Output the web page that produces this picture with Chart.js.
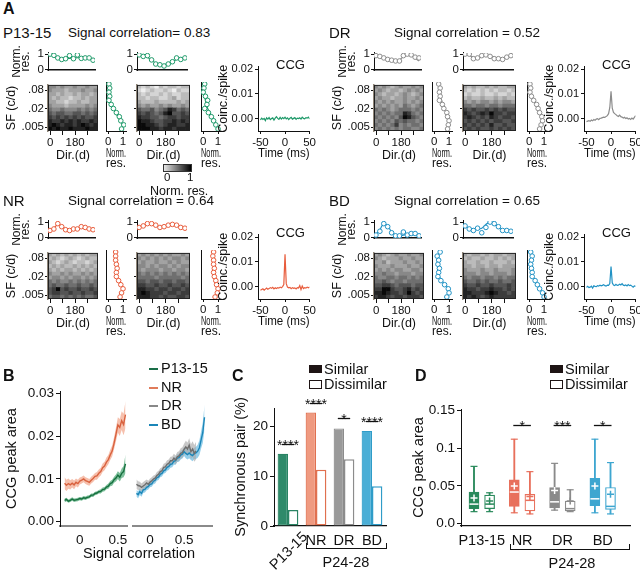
<!DOCTYPE html>
<html>
<head>
<meta charset="utf-8">
<script src="https://cdn.jsdelivr.net/npm/chart.js@4.4.0/dist/chart.umd.min.js"></script>
<style>
body { margin: 0; background: #fff; }
#fig { position: relative; width: 640px; height: 575px; overflow: hidden; font-family: 'Liberation Sans', Arial, sans-serif; color: #111; }
.t { position: absolute; white-space: nowrap; line-height: 1; }
</style>
</head>
<body>
<div id="fig"></div>
<script>
// ---------- A: example pairs ----------
const dirLabels = ['0', '30', '60', '90', '120', '150', '180', '210', '240', '270', '300', '330'];
const sfTickLabels = ['.005', '.02', '.08'];
const ccgTime = [-50, -47.5, -45, -42.5, -40, -37.5, -35, -32.5, -30, -27.5, -25, -22.5, -20, -17.5, -15, -12.5, -10, -7.5, -5, -2.5,
  0, 2.5, 5, 7.5, 10, 12.5, 15, 17.5, 20, 22.5, 25, 27.5, 30, 32.5, 35, 37.5, 40, 42.5, 45, 47.5, 50];

// heatmap rows: top row = highest SF, 0 = low response (light), 9 = high (dark)
const p13HeatA = [
  [4,4,3,4,3,3,4,3,3,4,3,3], [4,3,3,3,2,3,3,3,4,3,3,4], [3,3,2,3,2,2,3,2,3,3,2,3], [3,2,3,2,2,1,2,2,3,2,3,3],
  [3,3,2,2,1,2,2,3,2,2,3,3], [4,3,3,3,2,3,3,3,3,4,3,4], [5,4,4,5,4,4,4,5,4,5,4,5], [6,5,6,6,5,5,6,6,5,6,5,6],
  [7,6,7,6,7,6,7,6,7,6,6,7], [8,7,7,8,7,8,7,8,7,7,8,7], [8,9,8,7,8,8,7,8,9,8,7,8], [9,8,9,8,8,9,8,8,8,9,8,8]];
const p13HeatB = [
  [2,1,2,1,0,2,1,2,2,1,2,2], [1,0,1,2,1,1,2,1,0,2,1,1], [2,1,2,1,1,2,1,2,1,1,2,2], [2,2,1,2,2,1,1,2,3,1,2,2],
  [3,2,2,2,3,2,2,2,2,3,2,3], [4,3,4,3,3,4,3,4,3,3,4,3], [6,5,5,6,4,5,6,8,7,5,6,5], [7,6,7,6,5,6,8,9,6,6,7,6],
  [8,7,7,6,6,5,6,7,7,6,7,7], [9,8,8,7,6,6,7,7,8,7,8,7], [9,9,8,8,7,6,7,8,8,7,7,8], [9,9,9,8,8,7,8,8,7,8,8,8]];
const drHeatA = [
  [4,3,4,3,2,3,4,3,3,4,3,4], [3,4,3,2,3,3,2,3,4,3,4,3], [4,3,2,3,3,2,3,4,3,2,3,4], [3,4,3,3,2,3,3,4,3,3,4,3],
  [4,3,4,3,4,3,3,4,3,4,3,4], [3,4,3,4,3,4,3,5,4,3,4,5], [5,4,5,4,3,4,5,5,5,4,5,4], [4,5,4,5,4,5,5,8,7,5,4,5],
  [5,4,5,4,5,4,6,9,8,6,5,4], [4,5,4,5,4,6,5,6,5,5,4,5], [5,4,5,4,5,7,4,5,4,5,5,4], [4,5,4,5,4,5,4,5,5,4,4,5]];
const drHeatB = [
  [3,2,3,2,2,3,2,3,2,2,3,3], [2,1,2,1,2,1,2,1,2,2,1,2], [1,2,1,1,2,1,1,2,1,1,2,1], [2,3,2,2,3,2,2,3,2,3,2,2],
  [4,3,4,3,4,4,3,4,3,4,4,3], [5,5,4,5,5,4,5,5,4,5,5,5], [7,6,7,6,6,7,6,7,6,7,6,6], [8,7,6,7,8,7,9,7,7,6,7,7],
  [7,8,7,6,7,6,8,7,6,7,7,6], [6,7,6,7,6,7,6,7,7,6,6,7], [7,6,7,6,7,6,8,6,6,7,6,6], [6,7,6,7,6,6,7,6,7,6,7,6]];
const nrHeatA = [
  [3,2,3,2,3,2,3,2,3,2,3,3], [2,3,2,1,2,3,2,1,2,3,2,2], [3,2,1,2,3,2,1,2,2,1,2,3], [2,3,2,3,2,2,3,2,3,2,3,2],
  [3,2,3,2,3,3,2,3,2,3,2,3], [4,3,3,4,3,4,3,3,4,3,4,3], [3,4,4,3,4,3,4,4,3,4,3,4], [5,4,5,4,4,5,4,5,4,5,4,5],
  [5,6,5,5,6,5,5,6,5,5,6,5], [6,7,9,6,7,6,6,7,6,6,7,6], [6,7,7,6,6,7,6,6,7,6,6,7], [5,6,6,5,6,5,6,5,6,5,5,6]];
const nrHeatB = [
  [3,4,3,4,3,4,3,4,3,3,4,3], [4,3,4,3,4,3,4,3,4,4,3,4], [3,4,3,3,4,3,3,4,3,4,3,3], [4,4,3,4,3,4,4,3,4,3,4,4],
  [4,3,4,4,4,3,4,4,3,4,4,3], [5,4,5,4,5,4,5,4,5,4,5,4], [5,5,5,5,4,5,5,5,5,5,4,5], [6,6,5,6,6,5,6,6,5,6,6,5],
  [7,7,6,6,7,6,6,7,6,6,7,6], [8,8,7,7,6,7,7,6,7,7,6,7], [8,9,8,7,7,7,6,7,7,6,7,7], [8,8,8,7,7,6,7,6,6,7,7,6]];
const bdHeatA = [
  [3,4,3,2,3,4,3,3,4,3,3,4], [4,3,2,3,3,3,4,3,3,4,3,3], [3,3,4,2,3,3,3,4,3,3,4,3], [4,3,3,3,4,3,3,3,4,3,3,4],
  [3,4,3,4,3,4,4,3,3,4,4,3], [4,4,5,4,4,3,4,4,4,3,4,4], [5,4,4,5,5,4,5,5,4,5,4,5], [5,5,6,5,4,5,5,4,5,5,5,5],
  [6,6,7,7,6,5,6,6,6,5,6,6], [7,7,9,9,7,6,6,7,8,6,7,6], [8,8,9,8,7,7,6,7,9,7,6,7], [7,8,8,7,6,7,7,6,7,7,7,6]];
const bdHeatB = [
  [3,2,3,3,2,3,2,3,3,2,3,3], [2,3,2,2,3,2,2,3,2,3,2,3], [3,2,2,3,2,2,3,2,2,2,3,2], [3,3,2,3,3,2,3,3,2,3,3,3],
  [4,3,3,3,4,3,3,4,3,3,3,4], [4,4,4,3,4,4,3,4,4,4,3,4], [5,4,5,5,4,5,5,4,5,4,5,5], [6,5,5,6,5,6,5,5,6,5,5,6],
  [7,6,6,7,6,6,7,6,6,6,7,6], [8,7,7,6,7,7,8,7,7,6,7,6], [8,8,7,7,7,8,9,8,7,7,6,7], [8,7,8,7,6,7,8,7,7,7,7,7]];

// direction tuning (one value per direction) and SF tuning (one value per SF row, top to bottom)
const p13DirA = [1.0, 0.92, 0.75, 0.65, 0.70, 0.90, 0.70, 0.95, 0.72, 0.75, 0.75, 0.60];
const p13DirFitA = [0.98, 0.90, 0.78, 0.70, 0.70, 0.72, 0.74, 0.76, 0.75, 0.74, 0.72, 0.65];
const p13SfA = [0.05, 0.10, 0.05, 0.10, 0.05, 0.20, 0.35, 0.55, 0.75, 0.85, 1.05, 0.90];
const p13SfFitA = [0.05, 0.05, 0.07, 0.10, 0.12, 0.20, 0.35, 0.50, 0.65, 0.80, 0.95, 1.00];
const p13DirB = [0.95, 0.85, 0.90, 0.62, 0.35, 0.30, 0.22, 0.35, 0.50, 0.75, 0.65, 0.75];
const p13DirFitB = [0.95, 0.90, 0.80, 0.60, 0.40, 0.30, 0.30, 0.38, 0.50, 0.65, 0.72, 0.76];
const p13SfB = [0.10, 0.05, 0.00, 0.15, 0.30, 0.25, 0.10, 0.35, 0.55, 0.70, 0.85, 1.00];
const p13SfFitB = [0.05, 0.05, 0.05, 0.10, 0.15, 0.20, 0.30, 0.45, 0.60, 0.75, 0.90, 1.00];

const drDirA = [0.90, 0.85, 0.75, 0.65, 0.60, 0.55, 0.55, 0.90, 1.00, 0.95, 0.80, 0.75];
const drDirFitA = [0.80, 0.80, 0.75, 0.68, 0.60, 0.56, 0.62, 0.85, 1.00, 0.92, 0.72, 0.55];
const drSfA = [0.30, 0.40, 0.35, 0.40, 0.35, 0.55, 0.65, 0.85, 0.90, 1.00, 0.95, 0.90];
const drSfFitA = [0.30, 0.35, 0.40, 0.45, 0.50, 0.60, 0.70, 0.80, 0.88, 0.95, 0.95, 0.95];
const drDirB = [1.00, 1.00, 0.70, 0.75, 0.90, 0.95, 0.85, 0.70, 0.70, 0.65, 0.80, 0.90];
const drDirFitB = [0.95, 0.90, 0.80, 0.76, 0.85, 0.95, 0.90, 0.80, 0.70, 0.70, 0.76, 0.86];
const drSfB = [0.05, 0.10, 0.05, 0.15, 0.30, 0.50, 0.60, 0.70, 0.85, 0.90, 0.80, 0.70];
const drSfFitB = [0.05, 0.05, 0.10, 0.20, 0.30, 0.45, 0.60, 0.75, 0.85, 0.90, 0.85, 0.75];

const nrDirA = [0.45, 0.55, 0.90, 0.70, 0.50, 0.45, 0.55, 0.55, 0.70, 0.65, 0.55, 0.50];
const nrDirFitA = [0.45, 0.60, 0.85, 0.70, 0.55, 0.50, 0.55, 0.60, 0.65, 0.60, 0.55, 0.50];
const nrSfA = [0.50, 0.50, 0.50, 0.55, 0.60, 0.55, 0.55, 0.70, 0.85, 1.00, 0.90, 0.80];
const nrSfFitA = [0.50, 0.50, 0.50, 0.52, 0.55, 0.56, 0.60, 0.75, 0.90, 0.98, 0.90, 0.80];
const nrDirB = [0.65, 0.75, 0.90, 0.90, 0.80, 0.65, 0.70, 0.80, 0.85, 0.80, 0.65, 0.60];
const nrDirFitB = [0.65, 0.75, 0.85, 0.85, 0.76, 0.70, 0.72, 0.80, 0.82, 0.75, 0.65, 0.60];
const nrSfB = [0.70, 0.65, 0.70, 0.70, 0.75, 0.70, 0.75, 0.85, 0.90, 1.00, 0.95, 0.80];
const nrSfFitB = [0.70, 0.70, 0.70, 0.71, 0.72, 0.73, 0.76, 0.84, 0.92, 0.98, 0.95, 0.85];

const bdDirA = [0.15, 0.40, 0.90, 0.70, 0.30, 0.10, 0.10, 0.35, 0.15, 0.25, 0.25, 0.10];
const bdDirFitA = [0.20, 0.50, 0.90, 0.75, 0.35, 0.15, 0.10, 0.15, 0.20, 0.20, 0.15, 0.10];
const bdSfA = [0.40, 0.20, 0.30, 0.25, 0.35, 0.30, 0.25, 0.45, 0.70, 0.95, 1.00, 0.85];
const bdSfFitA = [0.30, 0.30, 0.30, 0.30, 0.30, 0.30, 0.35, 0.50, 0.75, 0.95, 1.00, 0.90];
const bdDirB = [0.75, 0.55, 0.45, 0.60, 0.30, 0.65, 1.00, 0.90, 0.70, 0.45, 0.45, 0.40];
const bdDirFitB = [0.70, 0.60, 0.55, 0.55, 0.60, 0.85, 1.00, 0.90, 0.65, 0.50, 0.45, 0.45];
const bdSfB = [0.10, 0.20, 0.15, 0.10, 0.15, 0.20, 0.20, 0.40, 0.55, 0.70, 0.90, 1.00];
const bdSfFitB = [0.15, 0.15, 0.15, 0.15, 0.15, 0.18, 0.25, 0.40, 0.55, 0.75, 0.90, 1.00];

// cross-correlograms (coinc./spike)
const p13Ccg = [-0.0005, 0.0002, -0.0003, 0.0001, -0.0008, 0.0003, -0.0002, 0.0004, -0.0004, 0.0, 0.0003, -0.0006, 0.0002, 0.0008,
  0.0001, -0.0003, 0.0005, -0.0002, 0.0004, 0.0, 0.0006, -0.0001, 0.0003, -0.0004, 0.0002, 0.0005, -0.0002, 0.0001, 0.0004,
  -0.0003, 0.0002, 0.0, 0.0003, -0.0002, 0.0006, 0.0001, -0.0001, 0.0004, 0.0002, 0.0006, -0.0001];
const drCcg = [-0.0012, -0.001, -0.0008, -0.0011, -0.0006, -0.0009, -0.0004, -0.0007, -0.0002, 0.0, -0.0004, 0.0001, 0.0002,
  0.0004, 0.0006, 0.0005, 0.0009, 0.0012, 0.002, 0.0045, 0.011, 0.0042, 0.0025, 0.002, 0.0016, 0.0012, 0.0009, 0.0014, 0.0008,
  0.0006, 0.0002, 0.0005, 0.0, 0.0003, -0.0002, 0.0001, -0.0003, 0.0002, -0.0002, 0.0005, 0.0012];
const nrCcg = [-0.0015, -0.0012, -0.0009, -0.0014, -0.001, -0.0006, -0.0011, -0.0008, -0.0004, -0.0007, -0.0003, -0.0009,
  -0.0005, -0.0008, -0.0004, -0.0006, -0.0002, -0.0005, 0.0, 0.0008, 0.0131, 0.0012, -0.0002, -0.0005, -0.0003, -0.0008,
  -0.0004, -0.0007, -0.0005, -0.0009, -0.0004, -0.0006, 0.0004, -0.0012, 0.0002, -0.0008, -0.0004, -0.0006, -0.0002, -0.0005, -0.0001];
const bdCcg = [-0.0003, 0.0001, -0.0004, -0.0002, 0.0002, -0.0006, 0.0003, 0.0001, 0.0, 0.0004, 0.0002, 0.0006, 0.0003, 0.0005,
  0.0008, 0.0004, 0.0002, 0.0006, 0.0005, 0.0012, 0.0081, 0.0015, 0.0006, 0.0004, 0.0009, 0.0005, 0.0006, 0.001, 0.0007, 0.0012,
  0.0006, 0.0004, 0.0007, 0.0003, 0.0008, 0.0004, 0.0006, 0.0002, -0.0002, 0.0003, 0.0001];

// ---------- B: CCG peak area vs signal correlation ----------
const bXLeft = [-0.2, -0.175, -0.15, -0.125, -0.1, -0.075, -0.05, -0.025, 0, 0.025, 0.05, 0.075, 0.1, 0.125, 0.15, 0.175,
  0.2, 0.225, 0.25, 0.275, 0.3, 0.325, 0.35, 0.375, 0.4, 0.425, 0.45, 0.475, 0.5, 0.525, 0.55, 0.575, 0.6];
const bXRight = [-0.2, -0.175, -0.15, -0.125, -0.1, -0.075, -0.05, -0.025, 0, 0.025, 0.05, 0.075, 0.1, 0.125, 0.15, 0.175,
  0.2, 0.225, 0.25, 0.275, 0.3, 0.325, 0.35, 0.375, 0.4, 0.425, 0.45, 0.475, 0.5, 0.525, 0.55, 0.575, 0.6, 0.625, 0.65,
  0.675, 0.7, 0.725, 0.75, 0.775, 0.8];
const nrMean = [0.0090, 0.0085, 0.0089, 0.0086, 0.0090, 0.0086, 0.0092, 0.0089, 0.0095, 0.0097, 0.0100, 0.0096, 0.0094, 0.0092,
  0.0097, 0.0101, 0.0106, 0.0107, 0.0113, 0.0117, 0.0126, 0.0130, 0.0139, 0.0145, 0.0156, 0.0165, 0.0183, 0.0204, 0.0226,
  0.0220, 0.0236, 0.0227, 0.0250];
const nrSem = [0.0014, 0.0013, 0.0012, 0.0011, 0.0010, 0.0010, 0.0009, 0.0009, 0.0008, 0.0008, 0.0008, 0.0008, 0.0008, 0.0008,
  0.0008, 0.0008, 0.0008, 0.0009, 0.0009, 0.0009, 0.0010, 0.0010, 0.0011, 0.0011, 0.0012, 0.0013, 0.0014, 0.0016, 0.0018,
  0.0020, 0.0022, 0.0025, 0.0032];
const p13Mean = [0.0050, 0.0052, 0.0048, 0.0050, 0.0053, 0.0050, 0.0051, 0.0052, 0.0054, 0.0053, 0.0056, 0.0055, 0.0057, 0.0058,
  0.0062, 0.0062, 0.0066, 0.0067, 0.0070, 0.0071, 0.0075, 0.0076, 0.0081, 0.0083, 0.0089, 0.0091, 0.0098, 0.0102, 0.0109,
  0.0104, 0.0113, 0.0117, 0.0135];
const p13Sem = [0.0005, 0.0004, 0.0004, 0.0004, 0.0004, 0.0004, 0.0004, 0.0004, 0.0004, 0.0004, 0.0004, 0.0004, 0.0004, 0.0004,
  0.0004, 0.0004, 0.0004, 0.0004, 0.0004, 0.0005, 0.0005, 0.0005, 0.0005, 0.0006, 0.0006, 0.0007, 0.0007, 0.0008, 0.0009,
  0.0010, 0.0011, 0.0013, 0.0022];
const drMean = [0.0086, 0.0083, 0.0082, 0.0079, 0.0082, 0.0085, 0.0089, 0.0086, 0.0091, 0.0094, 0.0098, 0.0100, 0.0106, 0.0109,
  0.0115, 0.0117, 0.0125, 0.0126, 0.0132, 0.0134, 0.0140, 0.0140, 0.0146, 0.0142, 0.0149, 0.0151, 0.0157, 0.0159, 0.0166,
  0.0172, 0.0167, 0.0176, 0.0161, 0.0167, 0.0157, 0.0163];
const drSem = [0.0011, 0.0010, 0.0010, 0.0009, 0.0009, 0.0009, 0.0008, 0.0008, 0.0008, 0.0008, 0.0008, 0.0008, 0.0008, 0.0008,
  0.0008, 0.0008, 0.0008, 0.0009, 0.0009, 0.0009, 0.0009, 0.0010, 0.0010, 0.0010, 0.0011, 0.0011, 0.0012, 0.0012, 0.0013,
  0.0014, 0.0015, 0.0016, 0.0017, 0.0018, 0.0019, 0.0020];
const bdMean = [0.0065, 0.0062, 0.0069, 0.0065, 0.0073, 0.0074, 0.0079, 0.0081, 0.0086, 0.0087, 0.0093, 0.0095, 0.0101, 0.0103,
  0.0109, 0.0111, 0.0117, 0.0119, 0.0125, 0.0127, 0.0132, 0.0133, 0.0139, 0.0140, 0.0146, 0.0147, 0.0153, 0.0155, 0.0161,
  0.0157, 0.0154, 0.0158, 0.0154, 0.0152, 0.0157, 0.0158, 0.0162, 0.0170, 0.0188, 0.0205, 0.0240];
const bdSem = [0.0008, 0.0008, 0.0008, 0.0008, 0.0007, 0.0007, 0.0007, 0.0007, 0.0007, 0.0007, 0.0007, 0.0007, 0.0007, 0.0007,
  0.0007, 0.0007, 0.0007, 0.0007, 0.0008, 0.0008, 0.0008, 0.0008, 0.0008, 0.0009, 0.0009, 0.0009, 0.0010, 0.0010, 0.0010,
  0.0011, 0.0011, 0.0012, 0.0012, 0.0013, 0.0013, 0.0014, 0.0015, 0.0017, 0.0020, 0.0024, 0.0028];

// ---------- C: synchronous pairs ----------
const cGroups = ['P13-15', 'NR', 'DR', 'BD'];
const cSimilar = [14.5, 22.8, 19.6, 19.1];
const cDissimilar = [3.2, 11.3, 13.4, 8.0];
const cSig = ['****', '****', '*', '****'];

// ---------- D: CCG peak area box plots ----------
const dGroups = ['P13-15', 'NR', 'DR', 'BD'];
const dSimLo = [0.016, 0.0145, 0.018, 0.0145];
const dSimQ1 = [0.020, 0.023, 0.021, 0.024];
const dSimMed = [0.026, 0.042, 0.029, 0.033];
const dSimQ3 = [0.042, 0.058, 0.048, 0.060];
const dSimHi = [0.076, 0.112, 0.080, 0.112];
const dSimMean = [0.034, 0.050, 0.044, 0.050];
const dDisLo = [0.016, 0.013, 0.016, 0.013];
const dDisQ1 = [0.020, 0.017, 0.017, 0.019];
const dDisMed = [0.026, 0.031, 0.020, 0.023];
const dDisQ3 = [0.038, 0.039, 0.030, 0.048];
const dDisHi = [0.041, 0.069, 0.045, 0.081];
const dDisMean = [0.030, 0.036, 0.030, 0.039];
const dSig = ['', '*', '***', '*'];

// ---------- helpers ----------
const FONT = "'Liberation Sans', Arial, sans-serif";
Chart.defaults.font.family = FONT;
Chart.defaults.color = '#111';
Chart.defaults.animation = false;
Chart.defaults.responsive = false;
Chart.defaults.plugins.legend.display = false;
Chart.defaults.plugins.tooltip.enabled = false;

const fig = document.getElementById('fig');

function txt(s, x, y, size, css) {
  const d = document.createElement('div');
  d.className = 't';
  d.textContent = s;
  d.style.cssText += `left:${x}px;top:${y}px;font-size:${size}px;` + (css || '');
  fig.appendChild(d);
  return d;
}

function grey(v) {
  const g = Math.round(238 - v * 25.5);
  return `rgb(${g},${g},${g})`;
}

// area = chart area [x0, y0, x1, y1]; m = space for axes/padding around it
function mk(area, m, cfg) {
  const [x0, y0, x1, y1] = area;
  const c = document.createElement('canvas');
  c.width = x1 - x0 + m.l + m.r;
  c.height = y1 - y0 + m.t + m.b;
  c.style.cssText = `position:absolute;left:${x0 - m.l}px;top:${y0 - m.t}px;`;
  fig.appendChild(c);
  cfg.options = cfg.options || {};
  cfg.options.events = [];
  cfg.options.layout = { padding: { left: m.pl || 0, top: m.t, right: m.r, bottom: m.pb || 0 } };
  return new Chart(c, cfg);
}

function ax(size, horiz, o = {}) {
  const a = Object.assign({}, o);
  a.grid = Object.assign({ drawOnChartArea: false, color: '#111', tickLength: 3 }, o.grid);
  a.border = Object.assign({ color: '#111', width: 1 }, o.border);
  a.ticks = Object.assign({ padding: 2, color: '#111', maxRotation: 0, autoSkip: false, font: { size: 11.5 } }, o.ticks);
  a.title = Object.assign({ display: false, color: '#111', padding: 0, font: { size: 12.5 } }, o.title);
  a.afterFit = horiz ? s => { s.height = size; } : s => { s.width = size; };
  return a;
}

const tickAt = vals => s => { s.ticks = vals.map(v => ({ value: v })); };

const framePlugin = {
  id: 'frame',
  afterDatasetsDraw(chart, args, opts) {
    if (!opts.color) return;
    const a = chart.chartArea, ctx = chart.ctx;
    ctx.save();
    ctx.strokeStyle = opts.color;
    ctx.lineWidth = 1;
    ctx.strokeRect(a.left + 0.5, a.top + 0.5, a.width - 1, a.height - 1);
    ctx.restore();
  }
};

const sigPlugin = {
  id: 'sig',
  afterDraw(chart, args, o) {
    if (!o.marks) return;
    const ctx = chart.ctx;
    ctx.save();
    ctx.strokeStyle = '#111';
    ctx.fillStyle = '#111';
    ctx.lineWidth = 1.3;
    ctx.font = `14px ${FONT}`;
    ctx.textAlign = 'center';
    ctx.textBaseline = 'alphabetic';
    o.marks.forEach((s, i) => {
      if (!s) return;
      const a = chart.getDatasetMeta(o.left).data[i], b = chart.getDatasetMeta(o.right).data[i];
      const y = Math.round(chart.scales.y.getPixelForValue(o.level[i])) + 0.5;
      ctx.beginPath();
      ctx.moveTo(a.x - 1, y);
      ctx.lineTo(b.x + 1, y);
      ctx.stroke();
      ctx.fillText(s, (a.x + b.x) / 2, y + 5);
    });
    ctx.restore();
  }
};

// ---------- panel A pieces ----------
const sfTickRows = [1, 5.8, 10.6];

function heatmap(ox, oy, x0, x1, rows, withLabels) {
  const nR = rows.length;
  const ds = [];
  for (let r = nR - 1; r >= 0; r--) {
    ds.push({ data: rows[r].map(() => 1), backgroundColor: rows[r].map(grey), borderWidth: 0, barPercentage: 1, categoryPercentage: 1 });
  }
  const l = withLabels ? 44 : 6;
  mk([x0 + ox, 79 + oy, x1 + ox, 131 + oy], { l, t: 2, r: 2, b: 32 }, {
    type: 'bar',
    data: { labels: dirLabels, datasets: ds },
    options: {
      plugins: { frame: { color: '#222' } },
      scales: {
        x: ax(32, true, { stacked: true, grid: { offset: false, tickLength: 4 }, border: { display: false },
          ticks: { padding: 1, callback: (v, i) => i === 0 ? '0' : i === 6 ? '180' : i % 3 === 0 ? '' : null },
          title: { display: true, text: 'Dir.(d)' } }),
        y: ax(l, false, { stacked: true, min: 0, max: nR, afterBuildTicks: tickAt(sfTickRows),
          border: { color: '#8f8578', width: 1.5 },
          ticks: { padding: 1, callback: (v, i) => withLabels ? sfTickLabels[i] : '' },
          title: { display: withLabels, text: 'SF (c/d)' } })
      }
    },
    plugins: [framePlugin]
  });
}

function dirCurve(ox, oy, x0, x1, l, dots, fit, color, withTitle) {
  mk([x0 + ox, 51 + oy, x1 + ox, 77 + oy], { l, t: 6, r: 2, b: 1 }, {
    type: 'scatter',
    data: { datasets: [
      { data: fit.map((v, i) => ({ x: i, y: v })), showLine: true, pointRadius: 0, borderColor: color, borderWidth: 1.2, tension: 0.4, order: 1 },
      { data: dots.map((v, i) => ({ x: i, y: v })), pointRadius: 2.3, pointBorderWidth: 1, borderColor: color, backgroundColor: '#fff', order: 0 }
    ] },
    options: { scales: {
      x: ax(1, true, { min: -0.5, max: 11.5, grid: { display: false }, ticks: { display: false }, border: { width: 1.5 } }),
      y: ax(l, false, { min: -0.05, max: 1.08, afterBuildTicks: tickAt([0, 1]), ticks: { padding: 1, callback: v => String(v) },
        title: { display: withTitle, text: ['Norm.', 'res.'], font: { size: 12, lineHeight: 0.75 } } })
    } }
  });
}

function sfCurve(ox, oy, x0, x1, dots, fit, color) {
  const n = dots.length;
  mk([x0 + ox, 79 + oy, x1 + ox, 131 + oy], { l: 1, t: 2, r: 6, b: 38 }, {
    type: 'scatter',
    data: { datasets: [
      { data: fit.map((v, i) => ({ x: v, y: n - 0.5 - i })), showLine: true, pointRadius: 0, borderColor: color, borderWidth: 1.2, tension: 0.4, order: 1 },
      { data: dots.map((v, i) => ({ x: v, y: n - 0.5 - i })), pointRadius: 2.3, pointBorderWidth: 1, borderColor: color, backgroundColor: '#fff', order: 0 }
    ] },
    options: { scales: {
      x: ax(38, true, { min: -0.15, max: 1.2, afterBuildTicks: tickAt([0, 1]), ticks: { padding: 1, callback: v => String(v) },
        title: { display: true, text: ['Norm.', 'res.'], font: { size: 12.5, lineHeight: 0.85 } } }),
      y: ax(1, false, { min: 0, max: n, grid: { display: false }, ticks: { display: false } })
    } }
  });
}

function ccg(ox, oy, vals, color) {
  mk([258 + ox, 64 + oy, 310 + ox, 131 + oy], { l: 41, t: 6, r: 8, b: 30 }, {
    type: 'scatter',
    data: { datasets: [{ data: ccgTime.map((t, i) => ({ x: t, y: vals[i] })), showLine: true, pointRadius: 0, borderColor: color, borderWidth: 1.2 }] },
    options: { scales: {
      x: ax(30, true, { min: -55, max: 50, afterBuildTicks: tickAt([-50, 0, 50]), ticks: { callback: v => String(v) },
        title: { display: true, text: 'Time (ms)' } }),
      y: ax(41, false, { min: -0.005, max: 0.021, afterBuildTicks: tickAt([0, 0.01, 0.02]),
        ticks: { font: { size: 11 }, callback: v => v.toFixed(2) },
        title: { display: true, text: 'Coinc./spike', font: { size: 12.5, lineHeight: 1 } } })
    } }
  });
  txt('CCG', 276 + ox, 58 + oy, 13);
}

function subpanel(ox, oy, name, corr, color, heatA, heatB, dirA, dirFitA, sfA, sfFitA, dirB, dirFitB, sfB, sfFitB, ccgVals) {
  txt(name, 3 + ox, 25 + oy, 15);
  txt(corr, 68 + ox, 26 + oy, 13.5);
  dirCurve(ox, oy, 48, 98, 36, dirA, dirFitA, color, true);
  heatmap(ox, oy, 48, 98, heatA, true);
  sfCurve(ox, oy, 102, 126, sfA, sfFitA, color);
  dirCurve(ox, oy, 137, 190, 14, dirB, dirFitB, color, false);
  heatmap(ox, oy, 137, 190, heatB, false);
  sfCurve(ox, oy, 197, 221, sfB, sfFitB, color);
  ccg(ox, oy, ccgVals, color);
}

txt('A', 3, 1, 16, 'font-weight:bold;');
subpanel(0, 0, 'P13-15', 'Signal correlation= 0.83', '#1f9a6a', p13HeatA, p13HeatB,
  p13DirA, p13DirFitA, p13SfA, p13SfFitA, p13DirB, p13DirFitB, p13SfB, p13SfFitB, p13Ccg);
subpanel(326, 0, 'DR', 'Signal correlation = 0.52', '#8c8c8c', drHeatA, drHeatB,
  drDirA, drDirFitA, drSfA, drSfFitA, drDirB, drDirFitB, drSfB, drSfFitB, drCcg);
subpanel(0, 168, 'NR', 'Signal correlation = 0.64', '#e85c3c', nrHeatA, nrHeatB,
  nrDirA, nrDirFitA, nrSfA, nrSfFitA, nrDirB, nrDirFitB, nrSfB, nrSfFitB, nrCcg);
subpanel(326, 168, 'BD', 'Signal correlation = 0.65', '#2192c4', bdHeatA, bdHeatB,
  bdDirA, bdDirFitA, bdSfA, bdSfFitA, bdDirB, bdDirFitB, bdSfB, bdSfFitB, bdCcg);

// colour bar
const cb = document.createElement('div');
cb.style.cssText = 'position:absolute;left:163px;top:164px;width:27px;height:6px;border:1px solid #333;background:linear-gradient(to right,#e6e6e6,#000);';
fig.appendChild(cb);
txt('0', 164, 172, 11.5);
txt('1', 187, 172, 11.5);
txt('Norm. res.', 150, 185, 12.5);

// ---------- panel B ----------
function band(xs, mean, sem, line, fill) {
  return [
    { data: mean.map((m, i) => ({ x: xs[i], y: m + sem[i] })), fill: '+1', backgroundColor: fill, borderWidth: 0, borderColor: 'rgba(0,0,0,0)', pointRadius: 0, order: 2 },
    { data: mean.map((m, i) => ({ x: xs[i], y: m - sem[i] })), fill: false, borderWidth: 0, borderColor: 'rgba(0,0,0,0)', pointRadius: 0, order: 2 },
    { data: mean.map((m, i) => ({ x: xs[i], y: m })), fill: false, borderColor: line, borderWidth: 1.4, pointRadius: 0, order: 1 }
  ];
}
const B_Y = { min: -0.001, max: 0.0305 };

mk([60, 389, 127, 526], { l: 57, t: 8, r: 6, b: 22 }, {
  type: 'line',
  data: { datasets: [
    ...band(bXLeft, nrMean, nrSem, '#d9623f', 'rgba(240,150,118,0.6)'),
    ...band(bXLeft, p13Mean, p13Sem, '#17703f', 'rgba(40,150,90,0.6)')
  ] },
  options: { scales: {
    x: ax(22, true, { type: 'linear', min: -0.26, max: 0.62, afterBuildTicks: tickAt([0, 0.5]), grid: { display: false },
      border: { color: '#8a8a8a', width: 2 }, ticks: { padding: 3, font: { size: 13.5 }, callback: v => String(v) } }),
    y: ax(57, false, { min: B_Y.min, max: B_Y.max, afterBuildTicks: tickAt([0, 0.01, 0.02, 0.03]), grid: { tickLength: 4 },
      ticks: { font: { size: 13.5 }, callback: v => v.toFixed(2) },
      title: { display: true, text: 'CCG peak area', font: { size: 14.5 } } })
  } }
});

mk([132, 389, 212, 526], { l: 0, t: 8, r: 6, b: 22 }, {
  type: 'line',
  data: { datasets: [
    ...band(bXRight.slice(0, drMean.length), drMean, drSem, '#6e6e6e', 'rgba(170,170,170,0.65)'),
    ...band(bXRight, bdMean, bdSem, '#1b86b8', 'rgba(80,175,220,0.6)')
  ] },
  options: { scales: {
    x: ax(22, true, { type: 'linear', min: -0.265, max: 0.91, afterBuildTicks: tickAt([0, 0.5]), grid: { display: false },
      border: { color: '#8a8a8a', width: 2 }, ticks: { padding: 3, font: { size: 13.5 }, callback: v => String(v) } }),
    y: { display: false, min: B_Y.min, max: B_Y.max }
  } }
});

txt('B', 3, 368, 16, 'font-weight:bold;');
txt('Signal correlation', 83, 546, 14.5);
[['P13-15', '#1a6e48'], ['NR', '#e07b5a'], ['DR', '#888'], ['BD', '#1b86b8']].forEach(([s, col], i) => {
  const y = 361 + i * 18.7;
  const dash = document.createElement('div');
  dash.style.cssText = `position:absolute;left:149px;top:${y + 7}px;width:9px;height:2px;background:${col};`;
  fig.appendChild(dash);
  txt(s, 161, y, 14.5);
});

// ---------- panel C ----------
const cLine = ['#2a8464', '#e0704f', '#8c8c8c', '#2f9cc8'];
const cFill = ['#2f8a6a', '#ef9a80', '#9a9a9a', '#4aaed6'];
mk([274, 408, 386, 526], { l: 42, t: 16, r: 4, b: 22 }, {
  type: 'bar',
  data: { labels: cGroups, datasets: [
    { data: cSimilar, backgroundColor: cFill, borderColor: cLine, borderWidth: 1.2, borderSkipped: false, barPercentage: 1, categoryPercentage: 0.74, clip: false },
    { data: cDissimilar, backgroundColor: '#fff', borderColor: cLine, borderWidth: 1.5, borderSkipped: false, barPercentage: 1, categoryPercentage: 0.74 }
  ] },
  options: {
    plugins: { sig: { marks: cSig, left: 0, right: 1, level: cSimilar.map((v, i) => Math.max(v, cDissimilar[i]) + 2) } },
    scales: {
      x: ax(22, true, { grid: { display: false }, border: { width: 1.2 },
        ticks: { padding: 3, font: { size: 14.5 }, callback: (v, i) => i === 0 ? '' : cGroups[i] } }),
      y: ax(42, false, { min: 0, max: 23.7, afterBuildTicks: tickAt([0, 10, 20]), grid: { tickLength: 4 },
        ticks: { font: { size: 13.5 }, callback: v => String(v) },
        title: { display: true, text: 'Synchronous pair (%)', font: { size: 14.5 } } })
    }
  },
  plugins: [sigPlugin]
});
txt('C', 232, 368, 16, 'font-weight:bold;');
txt('P13-15', 0, 529, 14.5, 'left:auto;right:340px;transform-origin:100% 0;transform:rotate(-45deg);');

function legendSD(x) {
  const b1 = document.createElement('div');
  b1.style.cssText = `position:absolute;left:${x}px;top:365px;width:13px;height:8px;background:#1e1414;`;
  const b2 = document.createElement('div');
  b2.style.cssText = `position:absolute;left:${x}px;top:380px;width:11px;height:7px;border:1px solid #1e1414;background:#fff;`;
  fig.appendChild(b1);
  fig.appendChild(b2);
  txt('Similar', x + 15, 362, 14.5);
  txt('Dissimilar', x + 15, 377, 14.5);
}
legendSD(309);

function bracket(x0, x1, y, cx) {
  const d = document.createElement('div');
  d.style.cssText = `position:absolute;left:${x0}px;top:${y - 5}px;width:${x1 - x0}px;height:5px;border:1px solid #111;border-top:none;`;
  fig.appendChild(d);
  const t = txt('P24-28', cx, y + 7, 14.5);
  t.style.transform = 'translateX(-50%)';
}
bracket(306, 385, 548, 346);

// ---------- panel D ----------
const dColors = ['#2a8a5c', '#e8705c', '#8a8a8a', '#3ea6d0'];
const gx = g => 1.6 + 3.1 * g;
const simX = g => gx(g) - 0.6;
const disX = g => gx(g) + 0.6;
const dCapPts = [], dCapCol = [];
dGroups.forEach((_, g) => {
  dCapPts.push({ x: simX(g), y: dSimLo[g] }, { x: simX(g), y: dSimHi[g] }, { x: disX(g), y: dDisLo[g] }, { x: disX(g), y: dDisHi[g] });
  dCapCol.push(dColors[g], dColors[g], dColors[g], dColors[g]);
});

mk([461, 409, 630, 526], { l: 51, t: 12, r: 8, b: 22 }, {
  type: 'bar',
  data: { datasets: [
    { data: dGroups.map((_, g) => ({ x: simX(g), y: [dSimQ1[g], dSimQ3[g]] })), backgroundColor: dColors, borderColor: dColors,
      borderWidth: 1.2, borderSkipped: false, barThickness: 10, grouped: false, order: 4 },
    { data: dGroups.map((_, g) => ({ x: disX(g), y: [dDisQ1[g], dDisQ3[g]] })), backgroundColor: '#fff', borderColor: dColors,
      borderWidth: 1.2, borderSkipped: false, barThickness: 10, grouped: false, order: 4 },
    { data: dGroups.map((_, g) => ({ x: simX(g), y: [dSimLo[g], dSimHi[g]] })), backgroundColor: dColors, borderWidth: 0,
      barThickness: 1.2, grouped: false, order: 5 },
    { data: dGroups.map((_, g) => ({ x: disX(g), y: [dDisLo[g], dDisHi[g]] })), backgroundColor: dColors, borderWidth: 0,
      barThickness: 1.2, grouped: false, order: 5 },
    { type: 'scatter', data: dCapPts, pointStyle: 'line', pointRadius: 3.5, pointBorderWidth: 1.2, borderColor: dCapCol, order: 3 },
    { type: 'scatter', data: dGroups.map((_, g) => ({ x: simX(g), y: dSimMed[g] })), pointStyle: 'line', pointRadius: 4.5,
      pointBorderWidth: 1.5, borderColor: '#fff', order: 2 },
    { type: 'scatter', data: dGroups.map((_, g) => ({ x: disX(g), y: dDisMed[g] })), pointStyle: 'line', pointRadius: 4.5,
      pointBorderWidth: 1.5, borderColor: dColors, order: 2 },
    { type: 'scatter', data: dGroups.map((_, g) => ({ x: simX(g), y: dSimMean[g] })), pointStyle: 'cross', pointRadius: 3.5,
      pointBorderWidth: 1.5, borderColor: '#fff', order: 1 },
    { type: 'scatter', data: dGroups.map((_, g) => ({ x: disX(g), y: dDisMean[g] })), pointStyle: 'cross', pointRadius: 3.5,
      pointBorderWidth: 1.5, borderColor: dColors, order: 1 }
  ] },
  options: {
    plugins: { sig: { marks: dSig, left: 0, right: 1, level: dSig.map(() => 0.131) } },
    scales: {
      x: ax(22, true, { type: 'linear', offset: false, min: 0, max: 13, afterBuildTicks: tickAt(dGroups.map((_, g) => gx(g))),
        grid: { display: false }, border: { width: 1.2 }, ticks: { padding: 3, font: { size: 14.5 }, callback: (v, i) => dGroups[i] } }),
      y: ax(51, false, { min: -0.003, max: 0.152, afterBuildTicks: tickAt([0, 0.05, 0.1, 0.15]), grid: { tickLength: 4 },
        ticks: { font: { size: 13.5 }, callback: v => v === 0 ? '0.0' : String(v) },
        title: { display: true, text: 'CCG peak area', font: { size: 14.5 } } })
    }
  },
  plugins: [sigPlugin]
});
txt('D', 415, 368, 16, 'font-weight:bold;');
legendSD(550);
bracket(510, 628, 549, 572);
</script>
</body>
</html>
